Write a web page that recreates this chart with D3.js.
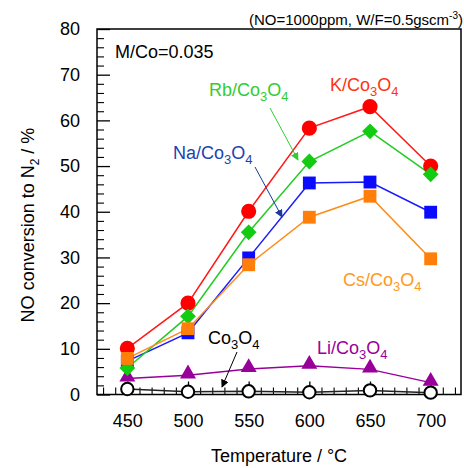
<!DOCTYPE html>
<html>
<head>
<meta charset="utf-8">
<script src="https://cdn.jsdelivr.net/npm/d3@7"></script>
<style>
  body { margin: 0; background: #fff; }
  text { font-family: "Liberation Sans", Arial, sans-serif; }
</style>
</head>
<body>
<svg id="chart" width="464" height="468"></svg>
<script>
// data
var temps = [450, 500, 550, 600, 650, 700];
var kVals  = [10.1, 20.0, 40.1, 58.3, 63.0, 50.0];
var naVals = [7.3, 13.5, 29.9, 46.3, 46.5, 39.9];
var rbVals = [5.8, 17.1, 35.5, 51.0, 57.6, 48.2];
var csVals = [7.9, 14.4, 28.4, 38.8, 43.4, 29.7];
var liVals = [3.5, 4.2, 5.6, 6.3, 5.5, 2.6];
var coVals = [1.2, 0.6, 0.7, 0.5, 0.9, 0.4];
var yTicks = [0, 10, 20, 30, 40, 50, 60, 70, 80];

var svg = d3.select("#chart");

var cs = {
    left: 97, right: 461, top: 29, bottom: 394.5,
    font: 18
};

var x = d3.scaleLinear().domain([425, 725]).range([cs.left, cs.right]);
var y = d3.scaleLinear().domain([0, 80]).range([cs.bottom, cs.top]);

// frame
svg.append("rect")
    .attr("x", cs.left).attr("y", cs.top)
    .attr("width", cs.right - cs.left).attr("height", cs.bottom - cs.top)
    .attr("fill", "none").attr("stroke", "#000").attr("stroke-width", 1.5);

// left axis: major + minor ticks pointing inward
var yAxis = d3.axisLeft(y).tickValues(yTicks).tickSize(-13).tickPadding(17).tickSizeOuter(0);
var gy = svg.append("g").attr("transform", "translate(" + cs.left + ",0)").call(yAxis);
gy.select(".domain").remove();
gy.selectAll("line").attr("stroke-width", 1.3);
gy.selectAll("text").attr("font-size", cs.font).attr("fill", "#000");

var yMinor = d3.axisLeft(y).tickValues(d3.range(0, 81, 2).filter(v => v % 10 !== 0)).tickSize(-7).tickFormat("");
var gym = svg.append("g").attr("transform", "translate(" + cs.left + ",0)").call(yMinor);
gym.select(".domain").remove();
gym.selectAll("line").attr("stroke-width", 1.1);

// bottom axis
var xAxis = d3.axisBottom(x).tickValues(temps).tickSize(-13).tickPadding(20).tickSizeOuter(0);
var gx = svg.append("g").attr("transform", "translate(0," + cs.bottom + ")").call(xAxis);
gx.select(".domain").remove();
gx.selectAll("line").attr("stroke-width", 1.3);
gx.selectAll("text").attr("font-size", cs.font).attr("fill", "#000");

var xMinor = d3.axisBottom(x).tickValues(d3.range(430, 725, 10).filter(v => v % 50 !== 0)).tickSize(-7).tickFormat("");
var gxm = svg.append("g").attr("transform", "translate(0," + cs.bottom + ")").call(xMinor);
gxm.select(".domain").remove();
gxm.selectAll("line").attr("stroke-width", 1.1);

// axis titles
svg.append("text")
    .attr("x", (cs.left + cs.right) / 2).attr("y", 462)
    .attr("text-anchor", "middle").attr("font-size", cs.font)
    .text("Temperature / \u00b0C");

var yt = svg.append("text")
    .attr("transform", "translate(34,225) rotate(-90)")
    .attr("text-anchor", "middle").attr("font-size", cs.font);
yt.append("tspan").text("NO conversion to N");
yt.append("tspan").attr("dy", 5).attr("font-size", 12).text("2");
yt.append("tspan").attr("dy", -5).text(" / %");

// header notes
var hd = svg.append("text").attr("x", 463).attr("y", 25)
    .attr("text-anchor", "end").attr("font-size", 15);
hd.append("tspan").text("(NO=1000ppm, W/F=0.5gscm");
hd.append("tspan").attr("dy", -6).attr("font-size", 10).text("-3");
hd.append("tspan").attr("dy", 6).text(")");

svg.append("text").attr("x", 115).attr("y", 58).attr("font-size", cs.font).text("M/Co=0.035");

// series
var series = [
    { name: "Co3O4", vals: coVals, line: "#222", shape: "open" },
    { name: "Li", vals: liVals, line: "#990099", fill: "#990099", shape: "tri" },
    { name: "K", vals: kVals, line: "#ff1a1a", fill: "#ff0000", shape: "circle" },
    { name: "Na", vals: naVals, line: "#1a1aff", fill: "#0a0aff", shape: "square" },
    { name: "Rb", vals: rbVals, line: "#22cc22", fill: "#11cc11", shape: "diamond" },
    { name: "Cs", vals: csVals, line: "#ff8c1a", fill: "#ff7f0a", shape: "square" }
];

var line = d3.line().x((d, i) => x(temps[i])).y(d => y(d));

series.forEach(s => {
    svg.append("path").datum(s.vals)
        .attr("fill", "none").attr("stroke", s.line).attr("stroke-width", 1.5)
        .attr("d", line);
});

var shapes = {
    circle: d3.symbol().type(d3.symbolCircle).size(180),
    open: d3.symbol().type(d3.symbolCircle).size(120),
    square: d3.symbol().type(d3.symbolSquare).size(165),
    diamond: d3.symbol().type(d3.symbolSquare).size(125),
    tri: d3.symbol().type(d3.symbolTriangle).size(110)
};

series.forEach(s => {
    svg.append("g").selectAll("path")
        .data(s.vals)
        .enter().append("path")
        .attr("d", shapes[s.shape])
        .attr("transform", (d, i) => "translate(" + x(temps[i]) + "," + y(d) + ")" +
            (s.shape === "diamond" ? " rotate(45)" : "") +
            (s.shape === "tri" ? " translate(0,-1.5)" : ""))
        .attr("fill", s.shape === "open" ? "#fff" : s.fill)
        .attr("stroke", s.shape === "open" ? "#000" : "none")
        .attr("stroke-width", 2);
});

// labels with sub-scripts
function label(xp, yp, el, color) {
    var t = svg.append("text").attr("x", xp).attr("y", yp)
        .attr("font-size", cs.font).attr("fill", color);
    if (el) t.append("tspan").text(el + "/");
    t.append("tspan").text("Co");
    t.append("tspan").attr("dy", 5).attr("font-size", 13).text("3");
    t.append("tspan").attr("dy", -5).text("O");
    t.append("tspan").attr("dy", 5).attr("font-size", 13).text("4");
}
label(330, 91, "K", "#ff3311");
label(209, 96, "Rb", "#33cc33");
label(173, 159, "Na", "#1a44b0");
label(343, 286, "Cs", "#ff9922");
label(317, 354, "Li", "#990099");
label(208, 344, "", "#000");

// arrows
var defs = svg.append("defs");
function arrow(id, color, x1, y1, x2, y2) {
    defs.append("marker").attr("id", id)
        .attr("viewBox", "0 0 10 10").attr("refX", 9).attr("refY", 5)
        .attr("markerWidth", 8).attr("markerHeight", 8)
        .attr("markerUnits", "userSpaceOnUse")
        .attr("orient", "auto")
        .append("path").attr("d", "M0,0 L10,5 L0,10 z").attr("fill", color);
    svg.append("line")
        .attr("x1", x1).attr("y1", y1).attr("x2", x2).attr("y2", y2)
        .attr("stroke", color).attr("stroke-width", 1)
        .attr("marker-end", "url(#" + id + ")");
}
arrow("aRb", "#33cc33", 270, 108, 298, 160);
arrow("aNa", "#1a3a9a", 255, 167, 282, 217);
arrow("aCo", "#000", 237, 352, 222, 387);
</script>
</body>
</html>
